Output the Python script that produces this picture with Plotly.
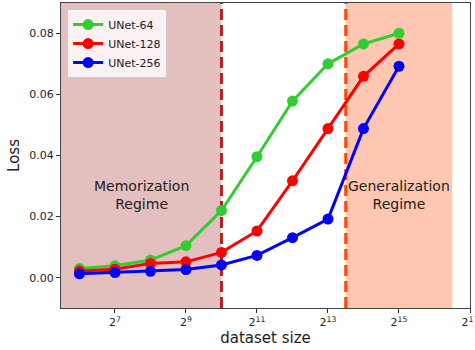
import math
import plotly.graph_objects as go

# ---- data ----
dataset_sizes = [2**6, 2**7, 2**8, 2**9, 2**10, 2**11, 2**12, 2**13, 2**14, 2**15]
unet64 = [0.0030, 0.0039, 0.0058, 0.0105, 0.0220, 0.0396, 0.0578, 0.0700, 0.0765, 0.0800]
unet128 = [0.0022, 0.0028, 0.0047, 0.0052, 0.0083, 0.0153, 0.0317, 0.0488, 0.0659, 0.0765]
unet256 = [0.0013, 0.0017, 0.0021, 0.0027, 0.0042, 0.0073, 0.0131, 0.0192, 0.0488, 0.0692]
series_names = ["UNet-64", "UNet-128", "UNet-256"]
series_colors = ["#32CD32", "#FF0000", "#0000FF"]
x_tick_exponents = [7, 9, 11, 13, 15, 17]
y_tick_values = [0.00, 0.02, 0.04, 0.06, 0.08]

# regime boundaries (exponents of 2)
mem_span = [5.4, 10.0]
gen_span = [13.5, 16.5]
x_limits_exp = [5.48, 17.0]
y_limits = [-0.0099, 0.0899]

font_family = "DejaVu Sans, Arial, sans-serif"

fig = go.Figure()
for name, vals, col in zip(series_names, [unet64, unet128, unet256], series_colors):
    fig.add_trace(go.Scatter(
        x=dataset_sizes, y=vals, name=name, mode="lines+markers",
        line=dict(color=col, width=3),
        marker=dict(color=col, size=11),
    ))

LOG2 = math.log10(2)

# shaded regimes
fig.add_shape(type="rect", xref="x", yref="paper",
              x0=2**max(mem_span[0], x_limits_exp[0]), x1=2**mem_span[1], y0=0, y1=1,
              fillcolor="rgba(165,42,42,0.3)", line_width=0, layer="below")
fig.add_shape(type="rect", xref="x", yref="paper",
              x0=2**gen_span[0], x1=2**gen_span[1], y0=0, y1=1,
              fillcolor="rgba(255,69,0,0.3)", line_width=0, layer="below")
# dashed boundaries
fig.add_shape(type="line", xref="x", yref="paper",
              x0=2**mem_span[1], x1=2**mem_span[1], y0=0, y1=1,
              line=dict(color="#B22222", width=3, dash="11px,5px"), layer="below")
fig.add_shape(type="line", xref="x", yref="paper",
              x0=2**gen_span[0], x1=2**gen_span[0], y0=0, y1=1,
              line=dict(color="#FF4500", width=3, dash="11px,5px"), layer="below")

# regime labels
fig.add_annotation(x=LOG2 * (x_limits_exp[0] + mem_span[1]) / 2, y=0.027,
                   xref="x", yref="y", text="Memorization<br>Regime", showarrow=False,
                   font=dict(size=14, color="#222", family=font_family))
fig.add_annotation(x=LOG2 * (gen_span[0] + gen_span[1]) / 2, y=0.027,
                   xref="x", yref="y", text="Generalization<br>Regime", showarrow=False,
                   font=dict(size=14, color="#222", family=font_family))

fig.update_layout(
    width=475, height=350,
    margin=dict(l=61, r=5, t=3, b=42),
    paper_bgcolor="white", plot_bgcolor="white",
    font=dict(family=font_family, size=11, color="#222"),
    showlegend=True,
    legend=dict(x=0.015, y=0.98, xanchor="left", yanchor="top",
                bgcolor="rgba(255,255,255,0.8)", bordercolor="#cccccc", borderwidth=1,
                font=dict(size=11, family=font_family), itemwidth=30,
                tracegroupgap=0),
)
fig.update_xaxes(
    type="log",
    range=[math.log10(2**x_limits_exp[0]), math.log10(2**x_limits_exp[1]) + 1e-6],
    tickvals=[2**e for e in x_tick_exponents],
    ticktext=[f"2<sup>{e}</sup>" for e in x_tick_exponents],
    ticks="outside", ticklen=4, tickcolor="#333",
    ticklabeloverflow="allow",
    showline=True, linecolor="#444", linewidth=1, mirror=True,
    showgrid=False, zeroline=False, automargin=False,
    title=dict(text="dataset size", font=dict(size=15, family=font_family), standoff=4),
)
fig.update_yaxes(
    range=y_limits,
    tickvals=y_tick_values,
    ticktext=[f"{v:.2f}" for v in y_tick_values],
    ticks="outside", ticklen=4, tickcolor="#333",
    showline=True, linecolor="#444", linewidth=1, mirror=True,
    showgrid=False, zeroline=False, automargin=False,
    title=dict(text="Loss", font=dict(size=15, family=font_family), standoff=6),
)

fig.write_html("out.html")
